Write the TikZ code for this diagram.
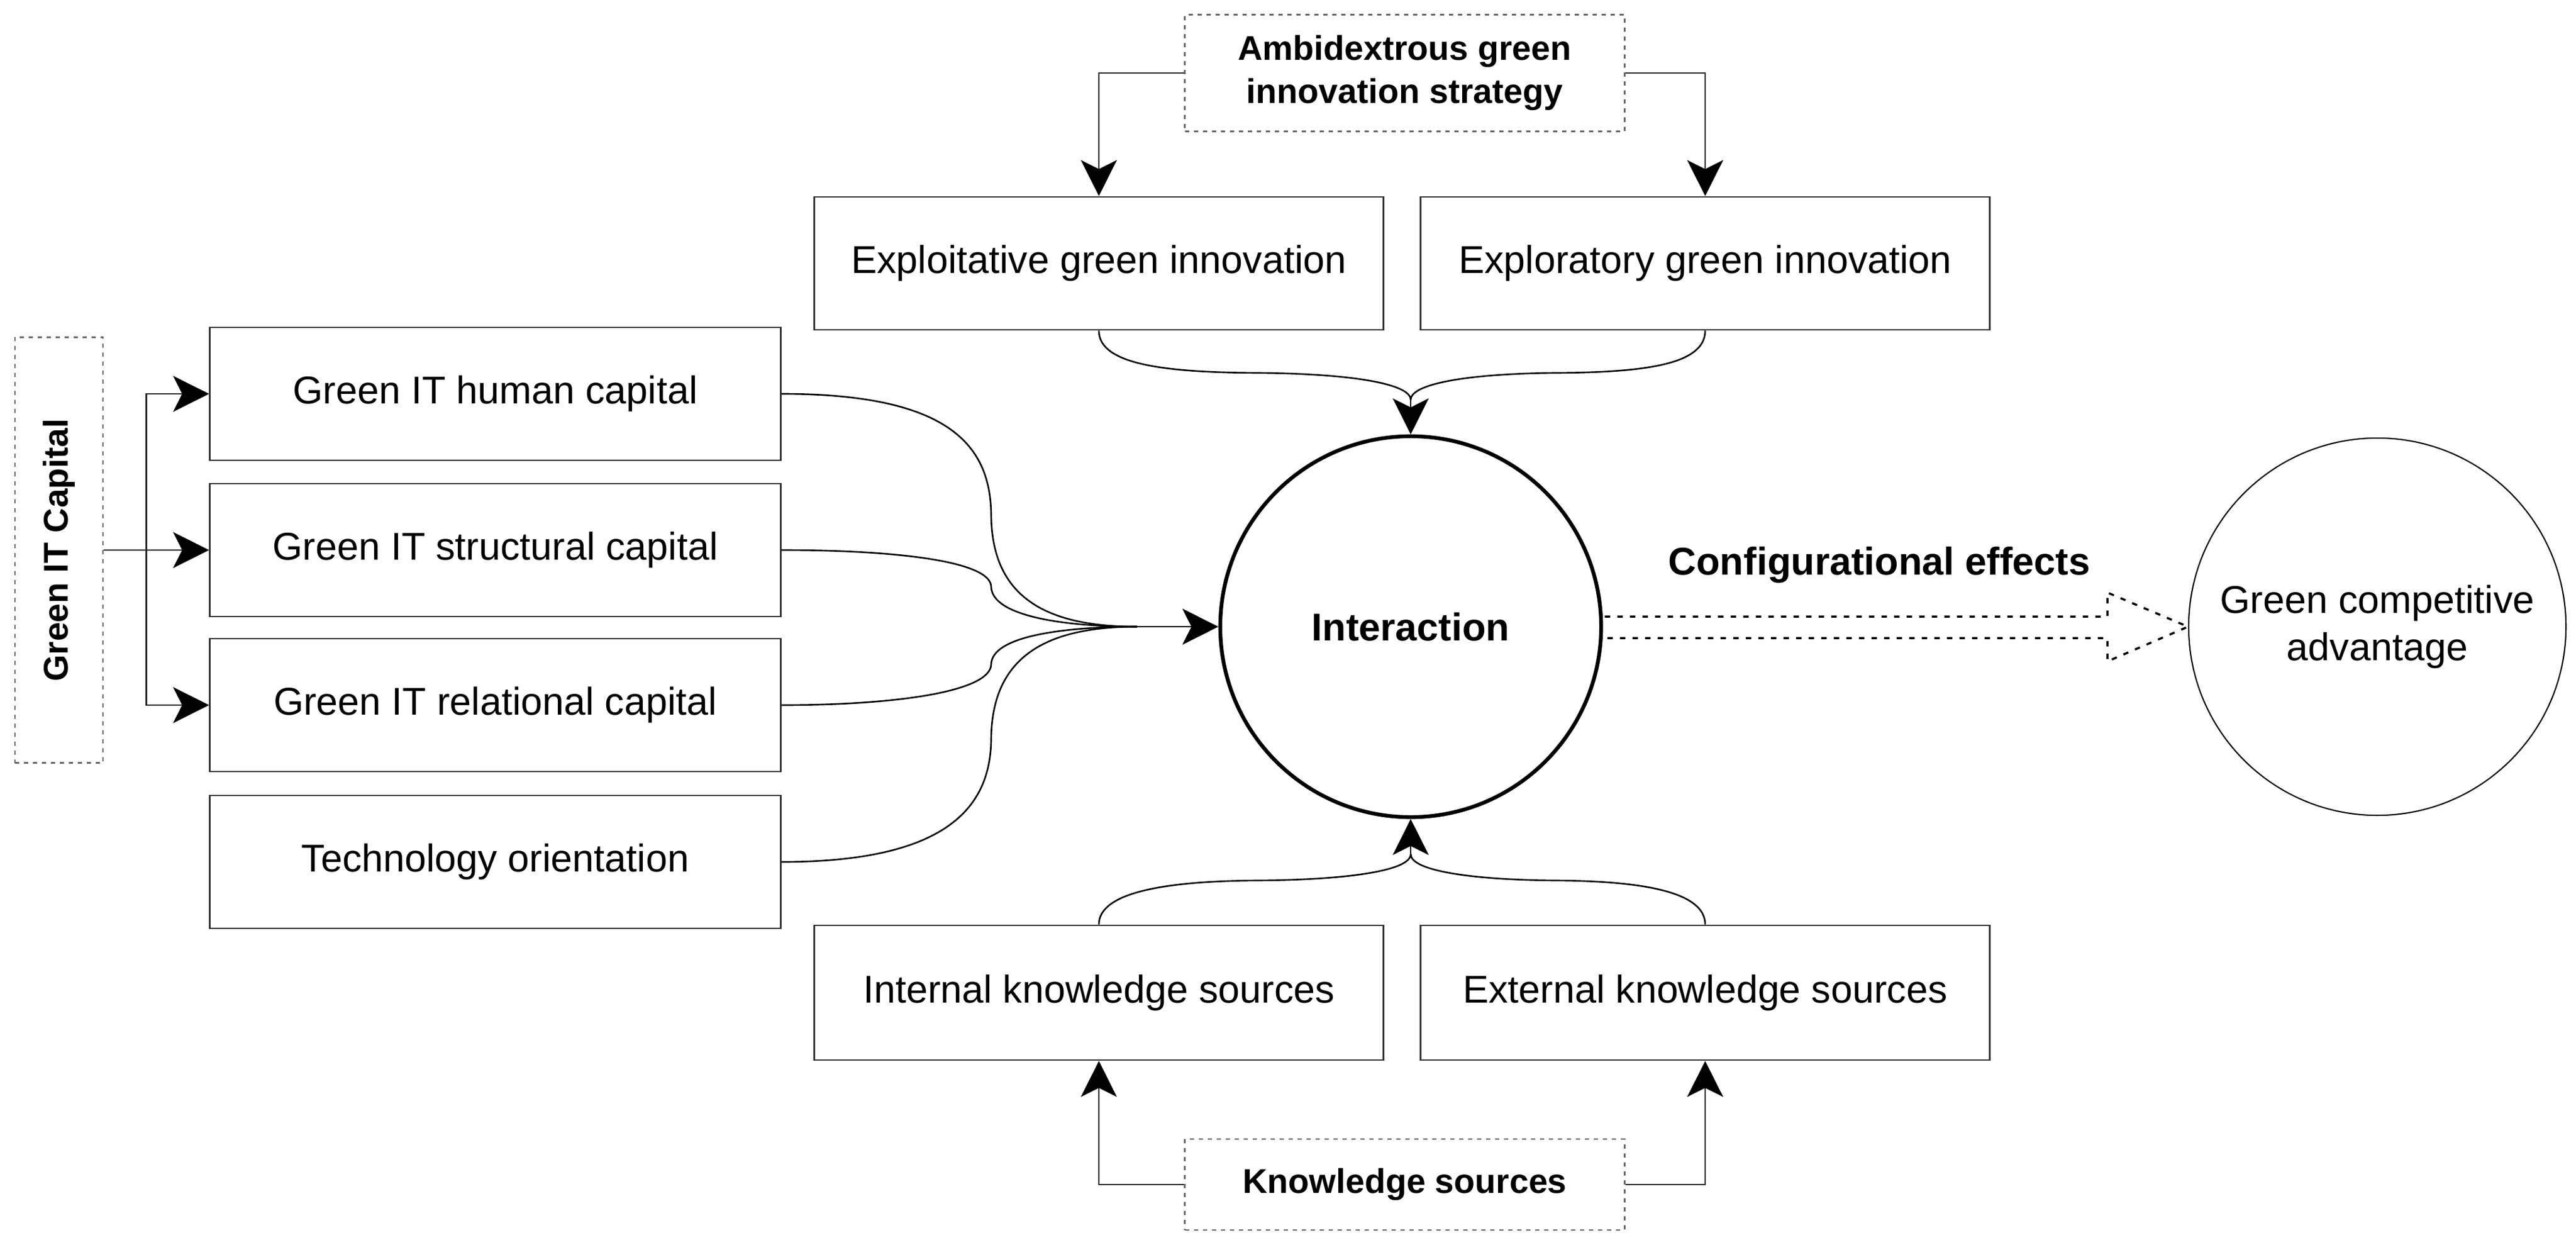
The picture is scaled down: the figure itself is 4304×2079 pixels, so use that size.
\documentclass[tikz,border=0pt]{standalone}
\usepackage{fontspec}
\setmainfont{Liberation Sans}
\usetikzlibrary{arrows.meta,calc}
\begin{document}
\begin{tikzpicture}[x=0.01cm,y=-0.01cm,
  box/.style={draw=black!80, line width=0.8pt, minimum width=9.53cm, minimum height=2.22cm, inner sep=0pt, font=\fontsize{18.4}{22}\selectfont},
  dbox/.style={draw=black!60, line width=0.8pt, dash pattern=on 0.07cm off 0.08cm, inner sep=0pt, align=center, font=\bfseries\fontsize{16.3}{20.6}\selectfont},
  conn/.style={draw=black!85, line width=0.8pt},
  arr/.style={conn, -{Stealth[length=0.6cm,width=0.6cm,inset=0.15cm,color=black]}},
  crv/.style={draw=black, line width=0.75pt},
  dotarr/.style={draw=black, line width=1pt, dash pattern=on 0.09cm off 0.12cm},
]
\useasboundingbox (0,0) rectangle (4304,2079);

% left column
\node[dbox, minimum width=1.47cm, minimum height=7.11cm] (gitc) at (98.5,919) {\rotatebox{90}{Green IT Capital}};
\node[box] (b1) at (827.5,658) {Green IT human capital};
\node[box] (b2) at (827.5,919) {Green IT structural capital};
\node[box] (b3) at (827.5,1178) {Green IT relational capital};
\node[box] (b4) at (827.5,1440) {Technology orientation};

% top
\node[dbox, minimum width=7.34cm, minimum height=1.95cm] (ambi) at (2347,122) {Ambidextrous green\\innovation strategy};
\node[box, minimum width=9.5cm] (b5) at (1836,440) {Exploitative green innovation};
\node[box, minimum width=9.5cm] (b6) at (2849,440) {Exploratory green innovation};

% bottom
\node[box, minimum width=9.5cm, minimum height=2.25cm] (b7) at (1836,1658.5) {Internal knowledge sources};
\node[box, minimum width=9.5cm, minimum height=2.25cm] (b8) at (2849,1658.5) {External knowledge sources};
\node[dbox, minimum width=7.34cm, minimum height=1.52cm] (ks) at (2347,1979) {Knowledge sources};

% circles
\node[circle, draw=black, line width=1.8pt, minimum size=6.36cm, inner sep=0pt, font=\bfseries\fontsize{18.4}{22}\selectfont] (inter) at (2357,1047) {Interaction};
\node[circle, draw=black, line width=0.6pt, minimum size=6.3cm, inner sep=0pt, align=center, font=\fontsize{18.4}{22.5}\selectfont] (gca) at (3972,1047) {Green competitive\\advantage};

\node[font=\bfseries\fontsize{18.4}{22}\selectfont] (conf) at (3140,944) {Configurational effects};

% Green IT Capital connectors
\draw[conn] (gitc.east) -- ++(71,0) coordinate (j);
\draw[arr] (j) |- (b1.west);
\draw[arr] (j) -- (b2.west);
\draw[arr] (j) |- (b3.west);

% top connectors
\draw[arr] (ambi.west) -| (b5.north);
\draw[arr] (ambi.east) -| (b6.north);

% bottom connectors
\draw[arr] (ks.west) -| (b7.south);
\draw[arr] (ks.east) -| (b8.south);

% left curves
\coordinate (lj) at (1900,1047);
\draw[crv] (b1.east) .. controls (1580,658) and (1655,740) .. (1656,860) .. controls (1657,1000) and (1750,1047) .. (lj);
\draw[crv] (b2.east) .. controls (1500,919) and (1655,938) .. (1656,980) .. controls (1657,1030) and (1780,1047) .. (lj);
\draw[crv] (b3.east) .. controls (1500,1178) and (1655,1155) .. (1656,1110) .. controls (1657,1062) and (1780,1047) .. (lj);
\draw[crv] (b4.east) .. controls (1580,1440) and (1655,1350) .. (1656,1235) .. controls (1657,1095) and (1750,1047) .. (lj);
\draw[arr, draw=black] (lj) -- (inter.west);

% top curves
\coordinate (tj) at (2357,668);
\draw[crv] (b5.south) .. controls (1836,610) and (1950,622) .. (2100,623) .. controls (2250,624) and (2357,640) .. (tj);
\draw[crv] (b6.south) .. controls (2849,610) and (2745,622) .. (2600,623) .. controls (2460,624) and (2357,640) .. (tj);
\draw[arr, draw=black] (tj) -- (inter.north);

% bottom curves
\coordinate (bj) at (2357,1427);
\draw[crv] (b7.north) .. controls (1836,1490) and (1950,1472) .. (2100,1471) .. controls (2250,1470) and (2357,1455) .. (bj);
\draw[crv] (b8.north) .. controls (2849,1490) and (2745,1472) .. (2600,1471) .. controls (2460,1470) and (2357,1455) .. (bj);
\draw[arr, draw=black] (bj) -- (inter.south);

% hollow dotted arrow
\draw[dotarr] ($(inter.east)+(3,-17)$) -- (3521,1030) -- (3521,990) -- (gca.west) -- (3521,1105) -- (3521,1066) -- ($(inter.east)+(3,19)$);
\end{tikzpicture}
\end{document}
